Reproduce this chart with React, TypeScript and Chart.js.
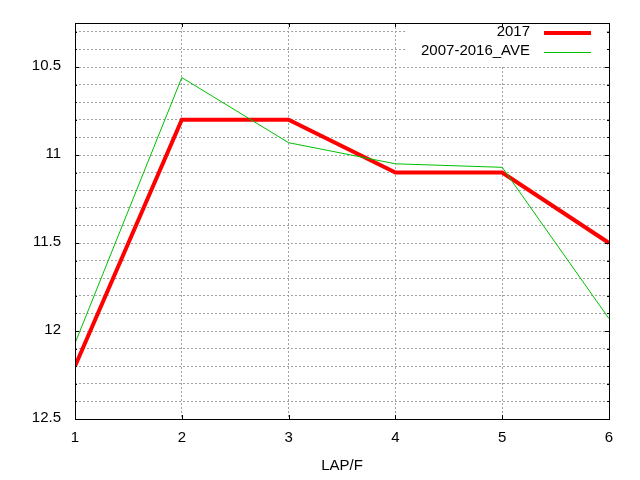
import React, { useRef, useEffect } from 'react';
import { Chart, registerables } from 'chart.js';

Chart.register(...registerables);

const laps = [1, 2, 3, 4, 5, 6];
const values2017 = [12.2, 10.8, 10.8, 11.1, 11.1, 11.5];
const valuesAve = [12.07, 10.56, 10.93, 11.05, 11.07, 11.93];
const seriesNames = ['2017', '2007-2016_AVE'];
const yMin = 10.25;
const yMax = 12.5;
const yStep = 0.1;
const yLabelStep = 0.5;

const FONT = '"Liberation Sans", Arial, sans-serif';

const isLabelTick = (v: number) => Math.abs(v / yLabelStep - Math.round(v / yLabelStep)) < 1e-6;

// gnuplot-ish frame: white key box, full border, inward ticks, key entries
const framePlugin = {
  id: 'frame',
  afterDatasetsDraw(chart: any) {
    const { ctx, chartArea } = chart;
    ctx.save();
    ctx.fillStyle = '#ffffff';
    ctx.fillRect(407, Math.round(chartArea.top) + 1, 199, 42);
    ctx.restore();
  },
  afterDraw(chart: any) {
    const { ctx, chartArea, scales } = chart;
    const { left, right, top, bottom } = chartArea;
    ctx.save();
    ctx.strokeStyle = '#000000';
    ctx.lineWidth = 1;
    ctx.beginPath();
    scales.y.ticks.forEach((t: any) => {
      const y = Math.round(scales.y.getPixelForValue(t.value)) + 0.5;
      const len = isLabelTick(t.value) ? 4 : 2;
      ctx.moveTo(left, y);
      ctx.lineTo(left + len, y);
      ctx.moveTo(right, y);
      ctx.lineTo(right - len, y);
    });
    scales.x.ticks.forEach((t: any) => {
      const x = Math.round(scales.x.getPixelForValue(t.value)) + 0.5;
      ctx.moveTo(x, top);
      ctx.lineTo(x, top + 4);
      ctx.moveTo(x, bottom);
      ctx.lineTo(x, bottom - 4);
    });
    ctx.stroke();
    ctx.strokeRect(Math.round(left) + 0.5, Math.round(top) + 0.5, Math.round(right - left), Math.round(bottom - top));

    // key
    const datasets = chart.data.datasets;
    ctx.font = `15px ${FONT}`;
    ctx.fillStyle = '#000000';
    ctx.textAlign = 'right';
    ctx.textBaseline = 'middle';
    datasets.forEach((ds: any, i: number) => {
      const y = 33 + i * 18.5;
      ctx.fillText(ds.label, 530, y - 1);
      ctx.strokeStyle = ds.borderColor;
      ctx.lineWidth = ds.borderWidth;
      ctx.beginPath();
      ctx.moveTo(544, Math.round(y) + (ds.borderWidth % 2 ? 0.5 : 0));
      ctx.lineTo(591, Math.round(y) + (ds.borderWidth % 2 ? 0.5 : 0));
      ctx.stroke();
    });
    ctx.restore();
  },
};

const App: React.FC = () => {
  const chartRef = useRef<HTMLCanvasElement | null>(null);
  const chartInstance = useRef<Chart | null>(null);

  useEffect(() => {
    if (!chartRef.current) return;
    if (chartInstance.current) chartInstance.current.destroy();
    const ctx = chartRef.current.getContext('2d');
    if (!ctx) return;

    chartInstance.current = new Chart(ctx, {
      type: 'line',
      data: {
        datasets: [
          {
            label: seriesNames[0],
            data: laps.map((x, i) => ({ x, y: values2017[i] })),
            borderColor: '#ff0000',
            backgroundColor: '#ff0000',
            borderWidth: 4,
            borderJoinStyle: 'miter',
            pointRadius: 0,
            tension: 0,
            order: 1,
          },
          {
            label: seriesNames[1],
            data: laps.map((x, i) => ({ x, y: valuesAve[i] })),
            borderColor: '#00c000',
            backgroundColor: '#00c000',
            borderWidth: 1,
            pointRadius: 0,
            tension: 0,
            order: 0,
          },
        ],
      },
      options: {
        animation: false,
        responsive: false,
        maintainAspectRatio: false,
        layout: { padding: { top: 19.5, right: 31, left: 0, bottom: 0 } },
        plugins: {
          legend: { display: false },
          tooltip: { enabled: false },
        },
        scales: {
          x: {
            type: 'linear',
            min: laps[0],
            max: laps[laps.length - 1],
            ticks: {
              stepSize: 1,
              color: '#000000',
              font: { family: FONT, size: 15 },
              padding: 10,
              maxRotation: 0,
            },
            grid: { color: '#a0a0a0', drawTicks: false },
            border: { display: false, dash: [2, 2] },
            title: {
              display: true,
              text: 'LAP/F',
              color: '#000000',
              font: { family: FONT, size: 15 },
              padding: { top: 0, bottom: 5 },
            },
            afterFit: (scale: any) => {
              scale.height = 61;
            },
          },
          y: {
            type: 'linear',
            reverse: true,
            min: yMin,
            max: yMax,
            afterBuildTicks: (scale: any) => {
              const ticks = [];
              const n = Math.round((yMax - 10.3) / yStep);
              for (let i = 0; i <= n; i++) {
                ticks.push({ value: Math.round((10.3 + i * yStep) * 100) / 100 });
              }
              scale.ticks = ticks;
            },
            ticks: {
              autoSkip: false,
              color: '#000000',
              font: { family: FONT, size: 15 },
              padding: 14,
              labelOffset: -1.5,
              callback: (v: any) => (isLabelTick(Number(v)) ? String(Number(v)) : ''),
            },
            grid: { color: '#a0a0a0', drawTicks: false },
            border: { display: false, dash: [2, 2] },
            afterFit: (scale: any) => {
              scale.width = 75;
            },
          },
        },
      },
      plugins: [framePlugin],
    });

    return () => {
      if (chartInstance.current) {
        chartInstance.current.destroy();
        chartInstance.current = null;
      }
    };
  }, []);

  return (
    <div style={{ position: 'absolute', left: 0, top: 0, width: '640px', height: '480px', background: '#fff' }}>
      <canvas ref={chartRef} width={640} height={480} style={{ width: '640px', height: '480px' }}></canvas>
    </div>
  );
};

export default App;
